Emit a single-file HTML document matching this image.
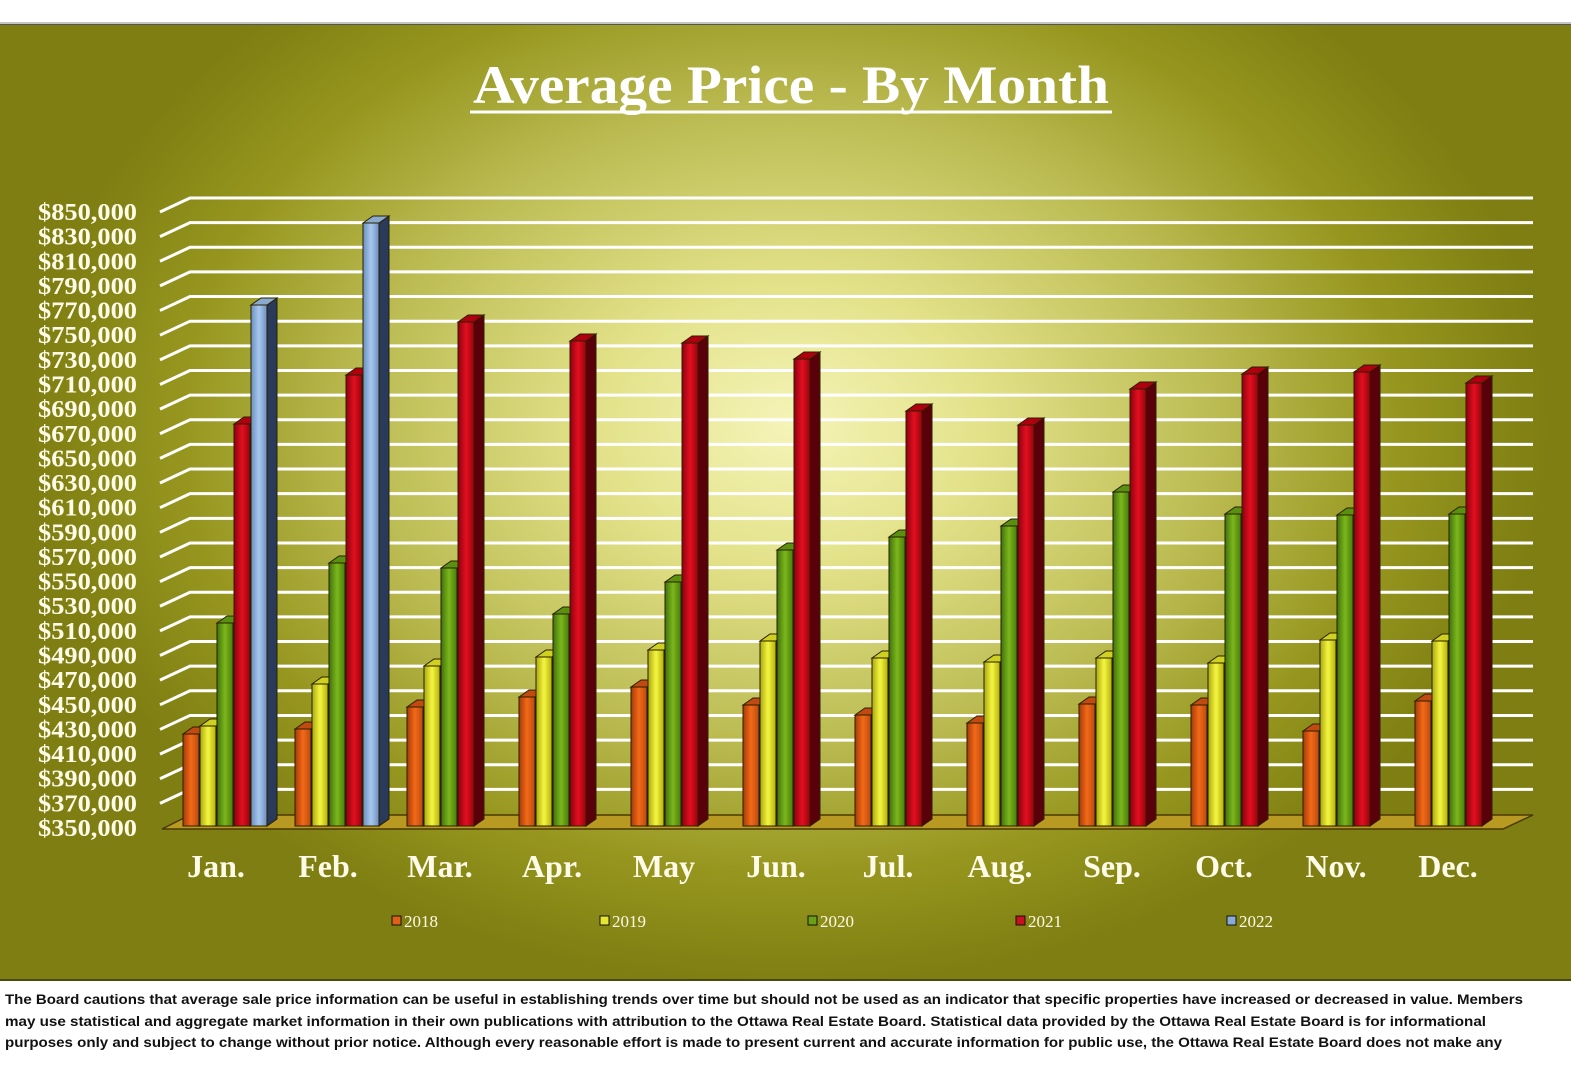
<!DOCTYPE html>
<html><head><meta charset="utf-8"><style>
html,body{margin:0;padding:0;width:1571px;height:1080px;overflow:hidden;background:#fff}
#bg{position:absolute;left:0;top:24px;width:1571px;height:954px;
background:radial-gradient(ellipse 760px 560px at 790px 400px,#f5f4b8 0%,#e3e28a 25%,#bdbd55 55%,#96961f 80%,#7e7e12 100%);
border-top:1px solid #555;border-bottom:2px solid #4a4a10}
svg{position:absolute;left:0;top:0}
</style></head><body>
<div id="bg"></div>
<svg width="1571" height="1080" xmlns="http://www.w3.org/2000/svg">
<defs>
<linearGradient id="g0" x1="0" x2="1"><stop offset="0" stop-color="#a83a08"/><stop offset=".5" stop-color="#f26a18"/><stop offset="1" stop-color="#b84a10"/></linearGradient>
<linearGradient id="g1" x1="0" x2="1"><stop offset="0" stop-color="#a8a810"/><stop offset=".5" stop-color="#f6f640"/><stop offset="1" stop-color="#b0b010"/></linearGradient>
<linearGradient id="g2" x1="0" x2="1"><stop offset="0" stop-color="#3f7010"/><stop offset=".5" stop-color="#7cb818"/><stop offset="1" stop-color="#4a7a10"/></linearGradient>
<linearGradient id="g3" x1="0" x2="1"><stop offset="0" stop-color="#900010"/><stop offset=".5" stop-color="#e01020"/><stop offset="1" stop-color="#a00010"/></linearGradient>
<linearGradient id="g4" x1="0" x2="1"><stop offset="0" stop-color="#6a90c0"/><stop offset=".5" stop-color="#a8c8ee"/><stop offset="1" stop-color="#6a8fc0"/></linearGradient>
</defs>
<line x1="0" y1="23" x2="1571" y2="23" stroke="#888" stroke-width="1"/>
<g id="grid" stroke="#fff" stroke-width="3" fill="none"></g>
<polygon points="162,829 1503,829 1533,815 190,815" fill="#b89a22" stroke="#4a3a08" stroke-width="1.5"/>
<g id="bars" stroke="#2a2000" stroke-width="1"></g>
<g font-family="Liberation Serif,serif" font-weight="bold" fill="#fffbe8" font-size="24" id="ylab"></g>
<text x="791" y="103" font-family="Liberation Serif,serif" font-weight="bold" font-size="54" fill="#fff" text-anchor="middle" textLength="636" lengthAdjust="spacingAndGlyphs">Average Price - By Month</text>
<line x1="470" y1="112" x2="1112" y2="112" stroke="#fff" stroke-width="3"/>
<g font-family="Liberation Serif,serif" font-weight="bold" fill="#fffbe8" font-size="32" text-anchor="middle">
<text x="216" y="877">Jan.</text><text x="328" y="877">Feb.</text><text x="440" y="877">Mar.</text><text x="552" y="877">Apr.</text><text x="664" y="877">May</text><text x="776" y="877">Jun.</text><text x="888" y="877">Jul.</text><text x="1000" y="877">Aug.</text><text x="1112" y="877">Sep.</text><text x="1224" y="877">Oct.</text><text x="1336" y="877">Nov.</text><text x="1448" y="877">Dec.</text>
</g>
<g stroke="#111" stroke-width="1">
<rect x="392" y="916" width="9" height="9" fill="#e0601a"/><rect x="600" y="916" width="9" height="9" fill="#e6e630"/><rect x="808" y="916" width="9" height="9" fill="#6aa018"/><rect x="1016" y="916" width="9" height="9" fill="#c81020"/><rect x="1227" y="916" width="9" height="9" fill="#8aaad8"/>
</g>
<g font-family="Liberation Serif,serif" fill="#fffbe8" font-size="17">
<text x="404" y="927">2018</text><text x="612" y="927">2019</text><text x="820" y="927">2020</text><text x="1028" y="927">2021</text><text x="1239" y="927">2022</text>
</g>
<g font-family="Liberation Sans,sans-serif" font-weight="bold" font-size="14" fill="#111">
<text x="5" y="1004" textLength="1518" lengthAdjust="spacingAndGlyphs">The Board cautions that average sale price information can be useful in establishing trends over time but should not be used as an indicator that specific properties have increased or decreased in value.  Members</text>
<text x="5" y="1026" textLength="1481" lengthAdjust="spacingAndGlyphs">may use statistical and aggregate market information in their own publications with attribution to the Ottawa Real Estate Board. Statistical data provided by the Ottawa Real Estate Board is for informational</text>
<text x="5" y="1047" textLength="1497" lengthAdjust="spacingAndGlyphs">purposes only and subject to change without prior notice. Although every reasonable effort is made to present current and accurate information for public use, the Ottawa Real Estate Board does not make any</text>
</g>
</svg>
<script>
var NS="http://www.w3.org/2000/svg";
function el(p,t,a){var e=document.createElementNS(NS,t);for(var k in a)e.setAttribute(k,a[k]);p.appendChild(e);return e;}
var grid=document.getElementById('grid'),yl=document.getElementById('ylab');
for(var i=1;i<=25;i++){var yf=828-i*24.64;el(grid,'polyline',{points:"160,"+yf+" 190,"+(yf-14)+" 1533,"+(yf-14)});}
for(var i=0;i<=25;i++){var yf=828-i*24.64;var v=350+20*i;var t=el(yl,'text',{x:38,y:yf+8,textLength:99,lengthAdjust:"spacingAndGlyphs"});t.textContent="$"+v+",000";}
var tops=[[732,724,621,422,303],[727,682,561,373,221],[705,664,566,320],[695,655,612,339],[685,648,580,341],[703,639,548,357],[713,656,535,409],[721,660,524,423],[702,656,490,387],[703,661,512,372],[729,638,513,370],[699,639,512,381]];
var side=["#7a2a06","#8a8a08","#2e5208","#5a0008","#2a3a5a"],topc=["#c04a10","#d0d020","#5a9010","#b00010","#8aaad0"];
var B=document.getElementById('bars');
for(var m=0;m<12;m++){var x0=183+112*m;for(var s=0;s<tops[m].length;s++){var x=x0+17*s,t=tops[m][s]+2,w=16;
el(B,'polygon',{points:(x+w)+","+t+" "+(x+w+10)+","+(t-7)+" "+(x+w+10)+",819 "+(x+w)+",826",fill:side[s]});
el(B,'polygon',{points:x+","+t+" "+(x+10)+","+(t-7)+" "+(x+w+10)+","+(t-7)+" "+(x+w)+","+t,fill:topc[s]});
el(B,'rect',{x:x,y:t,width:w,height:826-t,fill:"url(#g"+s+")"});}}
</script>
</body></html>
